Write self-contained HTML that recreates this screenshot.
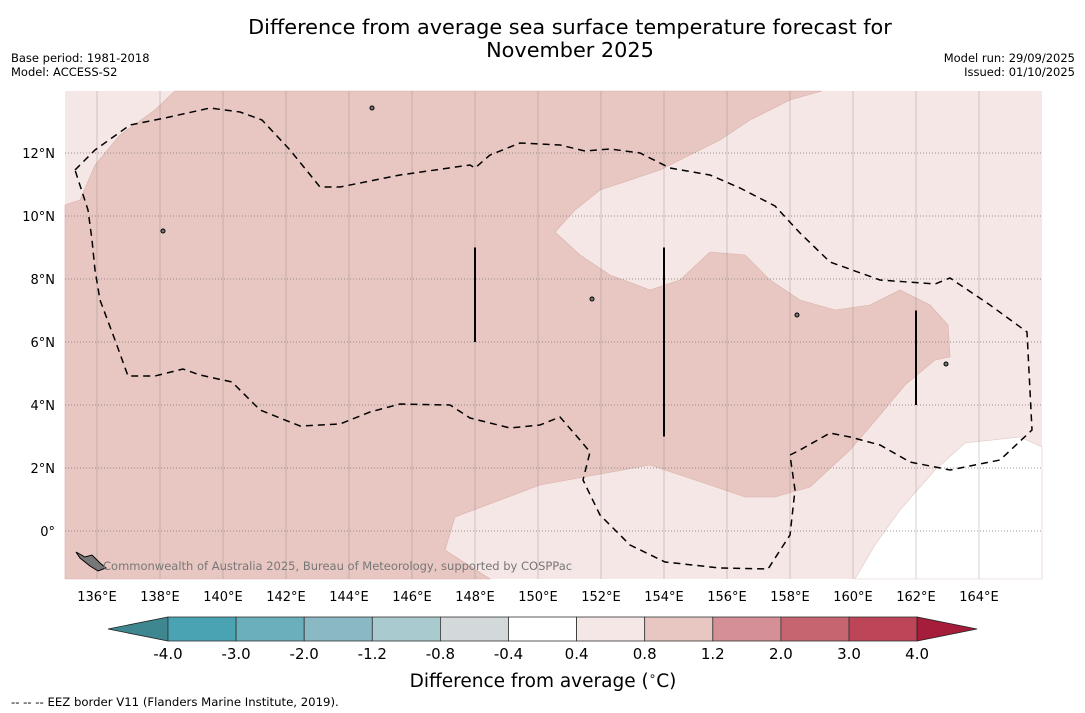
<!DOCTYPE html>
<html><head><meta charset="utf-8"><style>
body{margin:0;background:#fff;font-family:"Liberation Sans","DejaVu Sans",sans-serif}
svg{display:block}
</style></head><body>
<svg width="1085" height="713" viewBox="0 0 1085 713" font-family="DejaVu Sans, Liberation Sans, sans-serif">
<text x="570" y="34" font-size="20.8" text-anchor="middle">Difference from average sea surface temperature forecast for</text>
<text x="570" y="57" font-size="20.8" text-anchor="middle">November 2025</text>
<text x="11" y="62" font-size="11.5">Base period: 1981-2018</text>
<text x="11" y="76" font-size="11.5">Model: ACCESS-S2</text>
<text x="1075" y="62" font-size="11.5" text-anchor="end">Model run: 29/09/2025</text>
<text x="1075" y="76" font-size="11.5" text-anchor="end">Issued: 01/10/2025</text>
<g id="map"></g>
<g id="cbar"></g>
<text x="543" y="687" font-size="18.5" text-anchor="middle">Difference from average (<tspan baseline-shift="super" font-size="12">∘</tspan>C)</text>
<text x="11" y="706" font-size="11.7">--  --  -- EEZ border V11 (Flanders Marine Institute, 2019).</text>
</svg>
<script>
const lonTicks=[136,138,140,142,144,146,148,150,152,154,156,158,160,162,164];
const latTicks=[12,10,8,6,4,2,0];
const cbLevels=["-4.0","-3.0","-2.0","-1.2","-0.8","-0.4","0.4","0.8","1.2","2.0","3.0","4.0"];
const cbColors=["#4aa3b3","#6aafbb","#8ab9c3","#a9cbcf","#d3d8da","#ffffff","#f5e7e5","#e8c7c2","#d58f96","#c6646f","#bc4657"];
const pxDark=[[175,91],[155,110],[120,135],[95,165],[80,200],[65,205],[65,579],[490,579],[445,550],[455,517],[540,485],[650,465],[710,485],[745,497],[775,497],[810,487],[850,450],[880,415],[905,385],[935,360],[950,357],[948,325],[930,305],[900,290],[870,305],[835,310],[800,300],[770,280],[745,255],[710,252],[680,280],[650,290],[610,275],[580,255],[555,232],[575,210],[600,190],[660,170],[720,140],[750,120],[790,100],[822,91]];
const pxWhite=[[855,579],[875,545],[900,510],[935,470],[965,443],[1020,437],[1042,447],[1042,579]];
const pxEez=[[75,170],[95,150],[130,125],[165,118],[210,108],[240,112],[262,120],[290,150],[320,187],[340,187],[400,175],[470,165],[475,168],[490,155],[520,143],[560,145],[585,151],[610,149],[640,153],[670,168],[710,175],[740,188],[775,206],[800,233],[830,262],[880,280],[935,284],[950,278],[990,305],[1027,332],[1032,430],[1000,460],[950,470],[910,462],[880,445],[850,437],[830,433],[800,450],[790,455],[795,490],[790,535],[768,569],[720,568],[665,562],[630,545],[600,515],[583,480],[590,452],[580,440],[560,417],[540,425],[510,428],[470,418],[450,405],[400,404],[370,412],[340,424],[300,426],[260,410],[232,382],[200,375],[183,369],[155,376],[128,376],[115,340],[100,300],[95,270],[92,240],[88,210],[75,170]];
const NS="http://www.w3.org/2000/svg";
const L=65,R=1042,T=91,B=579;
const X=lon=>97+(lon-136)*31.5;
const Y=lat=>531-lat*31.5;
function mk(tag,at,parent){const e=document.createElementNS(NS,tag);for(const k in at)e.setAttribute(k,at[k]);parent.appendChild(e);return e;}
const map=document.getElementById('map');
mk('rect',{x:L,y:T,width:R-L,height:B-T,fill:'#f5e7e5'},map);
const pts=a=>a.map(p=>p.join(',')).join(' ');
let p=mk('polygon',{points:pts(pxDark),fill:'#e8c7c2',stroke:'#d9b0aa','stroke-width':0.6},map);

p=mk('polygon',{points:pts(pxWhite),fill:'#ffffff',stroke:'#e0c8c4','stroke-width':0.6},map);

lonTicks.forEach(lon=>{
 const l=mk('line',{x1:X(lon),x2:X(lon),y1:T,y2:B,stroke:'#8a7f7f','stroke-opacity':0.4,'stroke-width':0.9},map);
 
 const t=mk('text',{x:X(lon),y:601,'font-size':13,'text-anchor':'middle'},map);t.textContent=lon+'°E';
 
});
latTicks.forEach(lat=>{
 const l=mk('line',{x1:L,x2:R,y1:Y(lat),y2:Y(lat),stroke:'#777','stroke-width':0.8,'stroke-dasharray':'1,2'},map);
 
 const t=mk('text',{x:55,y:Y(lat)+5,'font-size':13,'text-anchor':'end'},map);t.textContent=lat===0?'0°':lat+'°N';
 
});
p=mk('polyline',{points:pts(pxEez),fill:'none',stroke:'#000','stroke-width':1.5,'stroke-dasharray':'7,5'},map);

[[148,9,6],[154,9,3],[162,7,4]].forEach(s=>{const l=mk('line',{x1:X(s[0]),x2:X(s[0]),y1:Y(s[1]),y2:Y(s[2]),stroke:'#000','stroke-width':2},map);
 });
[[372,108],[163,231],[797,315],[592,299],[946,364]].forEach(c=>{const e=mk('ellipse',{cx:c[0],cy:c[1],rx:2,ry:2,fill:'#777',stroke:'#000','stroke-width':1},map);
 });
mk('polygon',{points:'76,552 85,557 92,555 100,563 106,568 98,571 90,566 80,558',fill:'#777',stroke:'#000'},map);
let c=mk('text',{x:103,y:570,'font-size':11.5,fill:'#777'},map);c.textContent='Commonwealth of Australia 2025, Bureau of Meteorology, supported by COSPPac';

const cb=document.getElementById('cbar');
const cx0=168,cw=68.1,cy=617,ch=24;
let tri=mk('polygon',{points:`${cx0},${cy} ${cx0},${cy+ch} 108,${cy+ch/2}`,fill:'#3e8690',stroke:'#222','stroke-width':0.8},cb);

cbColors.forEach((col,i)=>{const r=mk('rect',{x:cx0+i*cw,y:cy,width:cw,height:ch,fill:col,stroke:'#333','stroke-width':0.8},cb);
 });
const ex=cx0+cbColors.length*cw;
tri=mk('polygon',{points:`${ex},${cy} ${ex},${cy+ch} 977,${cy+ch/2}`,fill:'#a51d3b',stroke:'#222','stroke-width':0.8},cb);

cbLevels.forEach((v,i)=>{const t=mk('text',{x:cx0+i*cw,y:659,'font-size':15,'text-anchor':'middle'},cb);t.textContent=v;
 });
</script>
</body></html>
